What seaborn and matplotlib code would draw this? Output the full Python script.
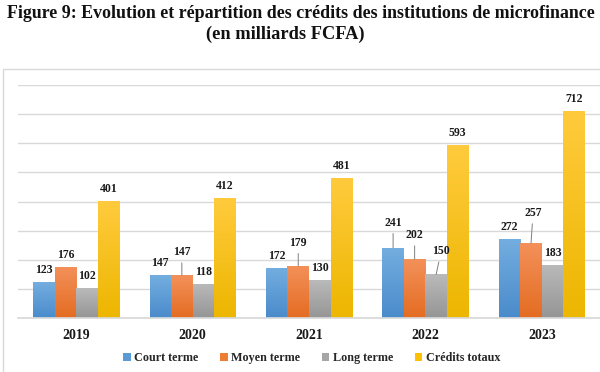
import numpy as np
import pandas as pd
import matplotlib
matplotlib.use("Agg")
import matplotlib.pyplot as plt
import seaborn as sns
from matplotlib.colors import LinearSegmentedColormap
from matplotlib.patches import Patch, Rectangle

years = ["2019", "2020", "2021", "2022", "2023"]
series = ["Court terme", "Moyen terme", "Long terme", "Crédits totaux"]
court = [123, 147, 172, 241, 272]
moyen = [176, 147, 179, 202, 257]
long_ = [102, 118, 130, 150, 183]
total = [401, 412, 481, 593, 712]

colors = ["#5B9BD5", "#ED7D31", "#A5A5A5", "#FFC000"]
tops = ["#74AEE0", "#F3915A", "#BABABA", "#FFCB3D"]
bottoms = ["#4A8BCB", "#E46C22", "#959595", "#EDB600"]

# label offsets (pixels) and leader-line flags keyed by (year index, series index)
label_offsets = {
    (1, 1): (0, 23, True),
    (2, 1): (0, 23, True),
    (3, 0): (0, 25, True),
    (3, 1): (0, 24, True),
    (3, 2): (5, 23, True),
    (4, 1): (2, 30, True),
}

df = pd.DataFrame({
    "Année": years * 4,
    "Série": sum([[s] * len(years) for s in series], []),
    "Valeur": court + moyen + long_ + total,
})

sns.set_theme(style="white")
serif = ["Liberation Serif", "DejaVu Serif"]
plt.rcParams["font.family"] = serif

fig = plt.figure(figsize=(6, 3.72), dpi=100)
W, H = 600, 372

# outer chart frame
fig.patches.append(Rectangle((3 / W, -0.01), 1.0, (H - 69) / H + 0.01,
                             transform=fig.transFigure, fill=False,
                             edgecolor="#D9D9D9", lw=1.0))

ax = fig.add_axes([18 / W, (H - 318) / H, 582 / W, (318 - 85) / H])
sns.barplot(data=df, x="Année", y="Valeur", hue="Série", hue_order=series,
            palette=colors, width=0.74, ax=ax, legend=False, saturation=1,
            edgecolor="none", linewidth=0)

ax.set_xlim(-0.5, 4.5)
ax.set_ylim(0, 800)
ax.set_yticks(np.arange(0, 801, 100))
ax.yaxis.grid(True, color="#D9D9D9", lw=1.0)
ax.set_axisbelow(True)
ax.tick_params(axis="y", left=False, labelleft=False)
ax.tick_params(axis="x", bottom=False, length=0, pad=8)
for s in ["top", "right", "left"]:
    ax.spines[s].set_visible(False)
ax.spines["bottom"].set_color("#D9D9D9")
ax.set_xlabel("")
ax.set_ylabel("")
for t in ax.get_xticklabels():
    t.set_fontweight("bold")
    t.set_fontsize(10)
    t.set_color("#1a1a1a")

# gradients on bars
grad = np.linspace(0, 1, 128).reshape(-1, 1)
for si, cont in enumerate(ax.containers):
    cmap = LinearSegmentedColormap.from_list("g%d" % si, [bottoms[si], tops[si]])
    for bar in cont:
        x0, y0 = bar.get_x(), bar.get_y()
        w, h = bar.get_width(), bar.get_height()
        im = ax.imshow(grad, extent=[x0, x0 + w, y0, y0 + h], origin="lower",
                       cmap=cmap, aspect="auto", zorder=bar.get_zorder() + 0.1)
        im.set_clip_path(bar)
ax.set_xlim(-0.5, 4.5)
ax.set_ylim(0, 800)

# data labels
for si, cont in enumerate(ax.containers):
    for yi, bar in enumerate(cont):
        val = int(round(bar.get_height()))
        cx = bar.get_x() + bar.get_width() / 2
        top = bar.get_height()
        dx, dy, leader = label_offsets.get((yi, si), (0, 12, False))
        kw = {}
        if leader:
            kw["arrowprops"] = dict(arrowstyle="-", color="#7f7f7f", lw=0.7,
                                    shrinkA=1, shrinkB=0)
        ax.annotate(str(val), xy=(cx, top), xytext=(dx, dy),
                    textcoords="offset pixels", ha="center", va="center",
                    fontsize=8.5, fontweight="bold", color="#1a1a1a",
                    zorder=5, **kw)

# title
fig.text(7 / W, 1 - 13 / H,
         "Figure 9: Evolution et répartition des crédits des institutions de microfinance",
         ha="left", va="center", fontsize=12.9, fontweight="bold", color="#111111")
fig.text(285 / W, 1 - 34 / H, "(en milliards FCFA)", ha="center", va="center",
         fontsize=13.2, fontweight="bold", color="#111111")

handles = [Patch(facecolor=c, edgecolor="none") for c in colors]
fig.legend(handles, series, loc="center", bbox_to_anchor=(312 / W, 1 - 358 / H),
           ncol=4, frameon=False, handlelength=0.6, handleheight=0.6,
           handletextpad=0.3, columnspacing=1.8,
           prop=dict(family=serif, weight="bold", size=8.7))

fig.savefig("out.png", dpi=100)
